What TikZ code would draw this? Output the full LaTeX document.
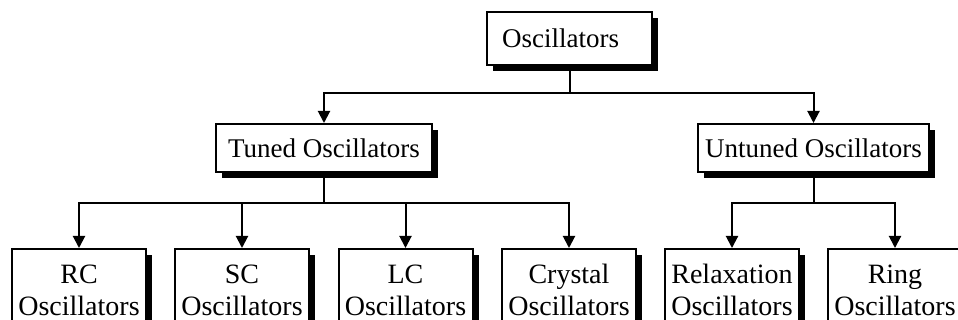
\documentclass[tikz,border=0pt]{standalone}
\usepackage{fontspec}
\setmainfont{Liberation Serif}
\usetikzlibrary{arrows.meta,shadows}
\begin{document}
\begin{tikzpicture}[x=1pt,y=-1pt,
  box/.style={draw, line width=2pt, fill=white, inner sep=0pt, align=center,
    font=\fontsize{27}{32}\selectfont,
    drop shadow={shadow xshift=6pt, shadow yshift=-6pt, fill=black, opacity=1}},
  leaf/.style={box, anchor=north, minimum width=134pt, minimum height=82pt,
    font=\fontsize{28}{32}\selectfont},
  arr/.style={line width=2pt, -{Triangle[width=12pt,length=12pt]}},
  ln/.style={line width=2pt}]
\useasboundingbox (0,0) rectangle (958,320);
\clip (0,0) rectangle (958,320);
\node[box, minimum width=165pt, minimum height=53pt] (top) at (569.5,38.5) {Oscillators\hspace*{18pt}};
\node[box, minimum width=216pt, minimum height=48pt] (tuned) at (324,148) {Tuned Oscillators};
\node[box, minimum width=231pt, minimum height=48pt] (untuned) at (813.5,148) {Untuned Oscillators};
\node[leaf] (rc) at (79,248) {RC\\Oscillators};
\node[leaf] (sc) at (242,248) {SC\\Oscillators};
\node[leaf] (lc) at (405.5,248) {LC\\Oscillators};
\node[leaf] (cr) at (569,248) {Crystal\\Oscillators};
\node[leaf] (rx) at (732,248) {Relaxation\\Oscillators};
\node[leaf] (rg) at (895,248) {Ring\\Oscillators};
\coordinate (bus1) at (0,93);
\coordinate (bus2) at (0,203);
\draw[arr] (top.south) -- (top.south |- bus1) -| (tuned.north);
\draw[arr] (top.south |- bus1) -| (untuned.north);
\draw[ln] (tuned.south) -- (tuned.south |- bus2);
\draw[arr] (tuned.south |- bus2) -| (rc.north);
\draw[arr] (tuned.south |- bus2) -| (cr.north);
\draw[arr] (sc.north |- bus2) -- (sc.north);
\draw[arr] (lc.north |- bus2) -- (lc.north);
\draw[ln] (untuned.south) -- (untuned.south |- bus2);
\draw[arr] (untuned.south |- bus2) -| (rx.north);
\draw[arr] (untuned.south |- bus2) -| (rg.north);
\end{tikzpicture}
\end{document}
